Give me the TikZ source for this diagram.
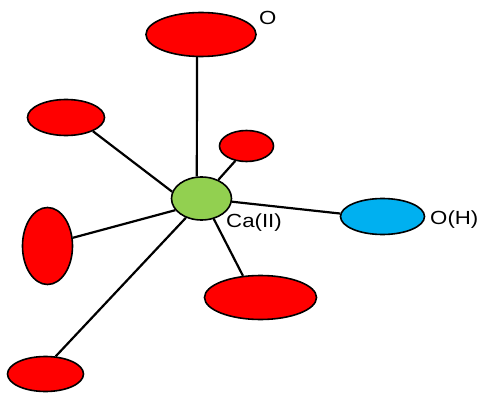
\documentclass[tikz,border=0pt]{standalone}
\usepackage{fontspec}
\setmainfont{Liberation Sans}
\usetikzlibrary{shapes.geometric}
\definecolor{oxy}{RGB}{255,0,0}
\definecolor{ca}{RGB}{146,208,80}
\definecolor{oh}{RGB}{0,176,240}
\tikzset{x=1pt,y=-1pt,
 atom/.style={ellipse,draw=black,line width=1.6pt,inner sep=0pt,minimum width=#1},
 bond/.style={line width=2.2pt,black},
 lab/.style={font=\fontsize{19}{22}\selectfont,inner sep=0pt,text=black,xscale=1.17}}
\begin{document}
\begin{tikzpicture}
\useasboundingbox (0,0) rectangle (482,393);
\node[atom=110pt,minimum height=44pt,fill=oxy] (top) at (201,34.5) {};
\node[atom=77pt,minimum height=36pt,fill=oxy] (ul) at (66,117.5) {};
\node[atom=54pt,minimum height=31pt,fill=oxy] (ur) at (246.5,146) {};
\node[atom=50pt,minimum height=77pt,fill=oxy] (l) at (47.5,246) {};
\node[atom=112pt,minimum height=44pt,fill=oxy] (lr) at (260.5,297.5) {};
\node[atom=76pt,minimum height=35pt,fill=oxy] (b) at (45.5,374) {};
\node[atom=84pt,minimum height=36pt,fill=oh] (oh) at (382.5,216.5) {};
\node[atom=60pt,minimum height=43pt,fill=ca] (ca) at (201.5,198.5) {};
\draw[bond] (ca.102) -- (top.-100);
\draw[bond] (ca.167) -- (ul.-27);
\draw[bond] (ca.48) -- (ur.233);
\draw[bond] (ca.204) -- (l.18);
\draw[bond] (ca.231) -- (b.60);
\draw[bond] (ca.-59) -- (lr.129);
\draw[bond] (ca.-6) -- (oh.176);
\node[lab,anchor=west] (o1) at (259,18) {O};
\node[lab,anchor=west] (o2) at (430,220) {O(H)};
\node[lab,anchor=west] (c) at (226,223) {Ca(II)};
\end{tikzpicture}
\end{document}
